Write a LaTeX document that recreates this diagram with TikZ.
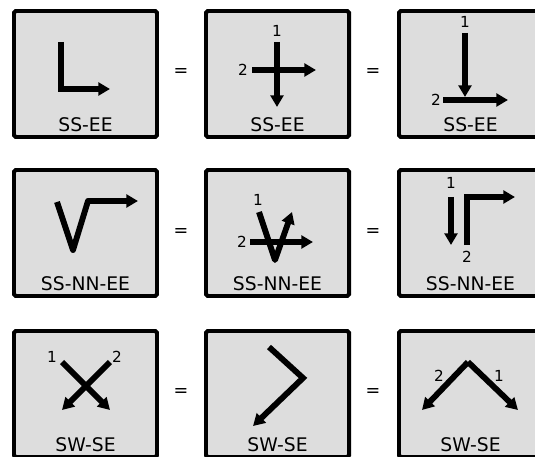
\documentclass[tikz,border=0pt]{standalone}
\usepackage{fontspec}
\setmainfont{DejaVu Sans}
\usetikzlibrary{arrows.meta}
\definecolor{boxfill}{RGB}{221,221,221}

\begin{document}
\begin{tikzpicture}[x=0.03cm, y=-0.03cm,
  box/.style={draw=black, fill=boxfill, line width=3.4pt, rounded corners=1.5pt,
    minimum width=4.29cm, minimum height=3.78cm, inner sep=0pt},
  tag/.style={font=\fontsize{16}{18}\selectfont, inner sep=0pt},
  num/.style={font=\fontsize{13}{15}\selectfont, inner sep=0pt},
  eq/.style={font=\fontsize{15}{17}\selectfont, inner sep=0pt},
  stroke/.style={line width=5pt},
  arr/.style={stroke, -{Triangle[length=10pt, width=11pt]}}]
  \useasboundingbox (0,0) rectangle (535,457);
  \clip (0,0) rectangle (535,457);
  \fill[white] (0,0) rectangle (535,457);
  % boxes and their names
  \foreach \r/\y/\t in {1/9/SS-EE, 2/168/SS-NN-EE, 3/329/SW-SE} {
    \foreach \c/\x in {1/12, 2/204, 3/397} {
      \node[box] (box\r\c) at (\x+73.5, \y+65) {};
      \node[tag] (tag\r\c) at (\x+73.5, \y+116) {\t};
    }
  }
  \foreach \y in {73,233,393} {
    \foreach \x in {181,373} {
      \node[eq] (eq-\x-\y) at (\x,\y) {=};
    }
  }
  % row 1: SS-EE
  \begin{scope}[shift={(12,9)}]
    \draw[arr, line join=miter] (49,33) |- (98,80);
  \end{scope}
  \begin{scope}[shift={(204,9)}]
    \draw[arr] (73,33) -- (73,98);
    \draw[arr] (48,61) -- (112,61);
    \node[num] (one12) at (73,22) {1};
    \node[num] (two12) at (39,61) {2};
  \end{scope}
  \begin{scope}[shift={(397,9)}]
    \draw[arr] (68,24) -- (68,88);
    \draw[arr] (46,91) -- (111,91);
    \node[num] (one13) at (68,13) {1};
    \node[num] (two13) at (39,91) {2};
  \end{scope}
  % row 2: SS-NN-EE
  \begin{scope}[shift={(12,168)}]
    \draw[arr, line join=round] (45,34) -- (61,82) -- (76,33) -- (126,33);
  \end{scope}
  \begin{scope}[shift={(204,168)}]
    \draw[arr, line join=round] (55,44) -- (71,92) -- (88,44);
    \draw[arr] (46,74) -- (109,74);
    \node[num] (one22) at (54,32) {1};
    \node[num] (two22) at (38,74) {2};
  \end{scope}
  \begin{scope}[shift={(397,168)}]
    \draw[arr] (54,29) -- (54,77);
    \draw[arr, line join=miter] (70,77) |- (118,29);
    \node[num] (one23) at (54,15) {1};
    \node[num] (two23) at (70,89) {2};
  \end{scope}
  % row 3: SW-SE
  \begin{scope}[shift={(12,329)}]
    \draw[arr] (50,33) -- (98,81);
    \draw[arr] (98,33) -- (50,81);
    \node[num] (one31) at (40,28) {1};
    \node[num] (two31) at (105,28) {2};
  \end{scope}
  \begin{scope}[shift={(204,329)}]
    \draw[arr, line join=miter] (65,18) -- (99,49) -- (49,97);
  \end{scope}
  \begin{scope}[shift={(397,329)}]
    \draw[arr] (71,33) -- (25,81);
    \draw[arr] (71,33) -- (121,81);
    \node[num] (two33) at (42,47) {2};
    \node[num] (one33) at (102,47) {1};
  \end{scope}
\end{tikzpicture}
\end{document}
